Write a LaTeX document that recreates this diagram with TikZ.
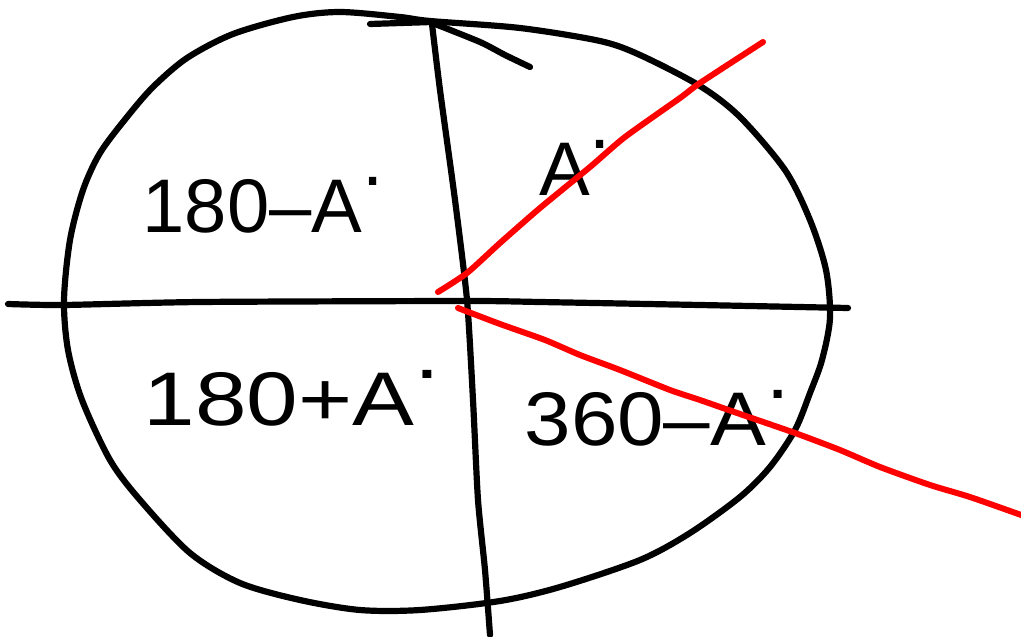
\documentclass[tikz,border=0pt]{standalone}
\usepackage{fontspec}
\setmainfont{Liberation Sans}
\begin{document}
\begin{tikzpicture}[x=1pt,y=-1pt,
  ink/.style={line width=6.2pt,line cap=round,line join=round,black},
  redink/.style={line width=6pt,line cap=round,line join=round,red},
  hand/.style={font=\fontsize{76}{76}\selectfont,inner sep=0pt,anchor=center}]
\useasboundingbox (0,0) rectangle (1021,637);
% circle (hand drawn ellipse)
\draw[ink] plot[smooth cycle,tension=0.5] coordinates {
 (340,12) (400,17) (430,21) (520,28) (600,41) (640,55) (700,86) (740,117)
 (785,170) (810,220) (826,270) (830,318) (822,360) (810,393) (795,430) (770,467)
 (740,497) (690,533) (640,560) (560,587) (500,601) (420,610) (360,610) (300,600)
 (240,583) (190,553) (140,500) (110,460) (82,400) (68,350) (64,300) (70,240)
 (83,190) (100,153) (127,117) (153,87) (187,58) (233,34) (293,17)};
% horizontal axis
\draw[ink] plot[smooth,tension=0.4] coordinates {(8,304) (63,305) (200,302) (467,301) (540,302) (700,305) (848,308)};
% vertical axis
\draw[ink] plot[smooth,tension=0.4] coordinates {(432,24) (440,90) (455,200) (467,300) (473,400) (478,500) (485,570) (490,635)};
% top marks
\draw[ink] (370,24) -- (432,22);
\draw[ink] plot[smooth,tension=0.4] coordinates {(430,22) (480,42) (505,55) (530,67)};
% labels
\node[hand] (q2) at (263,205) {\scalebox{1.0}[1]{180–A\raisebox{0.62em}{.}}};
\node[hand] (q1) at (575,168) {A\raisebox{0.62em}{.}};
\node[hand] (q3) at (292,398) {\scalebox{1.22}[1]{180+A\raisebox{0.62em}{.}}};
\node[hand] (q4) at (657,418) {\scalebox{1.1}[1]{360–A\raisebox{0.62em}{.}}};
% red lines
\draw[redink] plot[smooth,tension=0.4] coordinates {(438,292) (467,273) (500,243) (540,208) (590,167) (625,137) (680,98) (700,83) (763,42)};
\draw[redink] plot[smooth,tension=0.4] coordinates {(458,308) (500,324) (545,340) (580,355) (620,370) (670,390) (700,400) (740,414) (795,433) (840,450) (880,467) (930,485) (970,497) (1024,516)};
\end{tikzpicture}
\end{document}
